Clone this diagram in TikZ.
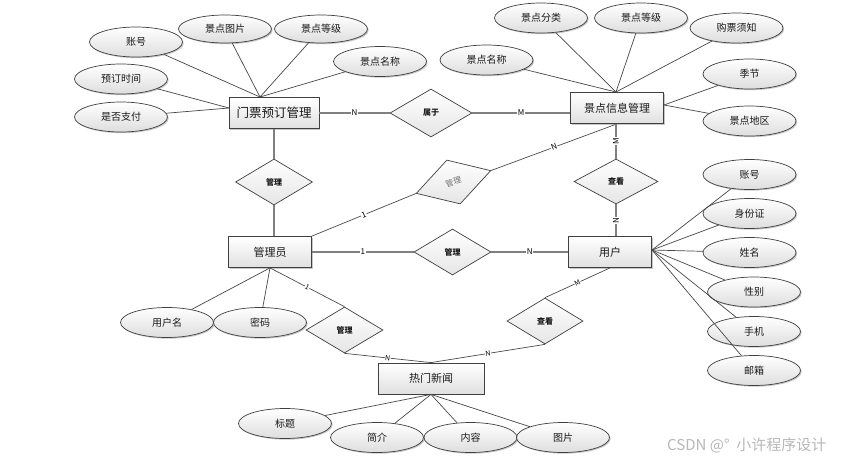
\documentclass[tikz,border=0pt]{standalone}
\usepackage{fontspec}
\setmainfont{Noto Sans CJK SC}
\usetikzlibrary{shapes.geometric,shadows}
\begin{document}
\begin{tikzpicture}[x=1pt,y=-1pt,
  every node/.style={font=\fontsize{10}{12}\selectfont, text=black!90},
  shd/.style={drop shadow={shadow xshift=1.2pt, shadow yshift=-1.2pt, opacity=0.22, fill=black}},
  ent/.style={rectangle, draw=black!75, line width=0.8pt, top color=white, bottom color=black!12,
    minimum width=#1, minimum height=31pt, inner sep=0pt, font=\fontsize{11}{13}\selectfont, shd},
  attr/.style={ellipse, draw=black!75, line width=0.7pt, top color=white, bottom color=black!13,
    minimum width=93pt, minimum height=30pt, inner sep=0pt, shd},
  rel/.style={diamond, draw=black!75, line width=0.7pt, top color=white, bottom color=black!10,
    minimum width=77pt, minimum height=46pt, inner sep=0pt, font=\fontsize{8}{10}\selectfont\bfseries},
  rline/.style={draw=black!50, line width=1.3pt},
  sline/.style={draw=black!70, line width=0.7pt},
  aline/.style={draw=black!72, line width=0.7pt},
  lab/.style={fill=white, inner sep=0.6pt, font=\fontsize{8}{9}\selectfont, text=black},
  slab/.style={fill=white, inner sep=0.4pt, font=\fontsize{7}{8}\selectfont, text=black}
]
\fill[white] (0,0) rectangle (844,461);
\useasboundingbox (0,0) rectangle (844,461);

% entities
\node[ent=90pt, font=\fontsize{12.5}{14}\selectfont] (mp) at (274,113) {门票预订管理};
\node[ent=93pt] (sj) at (617,108) {景点信息管理};
\node[ent=83pt] (gly) at (270,252) {管理员};
\node[ent=83pt] (yh) at (610,252) {用户};
\node[ent=106pt] (xw) at (431,378.5) {热门新闻};

% relationships
\node[rel, minimum width=82pt, minimum height=48pt] (sy) at (431,113) {属于};
\node[rel] (gl1) at (274,182) {管理};
\node[rel, rotate=17, minimum width=78pt, minimum height=46pt, font=\fontsize{8}{10}\selectfont, text=black!55] (gl2) at (453.5,182) {管理};
\node[rel, minimum width=84pt, minimum height=45pt] (ck1) at (616,181.5) {查看};
\node[rel] (gl3) at (452.5,252) {管理};
\node[rel] (gl4) at (344.5,330) {管理};
\node[rel, minimum width=76pt] (ck2) at (545,321) {查看};

% attributes of 门票预订管理
\node[attr] (a1) at (136,42) {账号};
\node[attr, minimum height=28pt] (a2) at (225,29) {景点图片};
\node[attr, minimum height=28pt] (a3) at (321,29) {景点等级};
\node[attr] (a4) at (380,61.5) {景点名称};
\node[attr] (a5) at (121,79) {预订时间};
\node[attr] (a6) at (121,117) {是否支付};
% attributes of 景点信息管理
\node[attr] (b1) at (541,18) {景点分类};
\node[attr] (b2) at (641,18) {景点等级};
\node[attr] (b3) at (736.5,28) {购票须知};
\node[attr] (b4) at (486.5,60) {景点名称};
\node[attr] (b5) at (749.5,74) {季节};
\node[attr] (b6) at (749.5,121) {景点地区};
% attributes of 用户
\node[attr] (c1) at (749.5,174.5) {账号};
\node[attr] (c2) at (749.5,213.5) {身份证};
\node[attr] (c3) at (749.5,252.5) {姓名};
\node[attr] (c4) at (754,292) {性别};
\node[attr] (c5) at (754,331.5) {手机};
\node[attr] (c6) at (754,370.5) {邮箱};
% attributes of 管理员
\node[attr] (d1) at (167,322.5) {用户名};
\node[attr] (d2) at (260,322.5) {密码};
% attributes of 热门新闻
\node[attr] (e1) at (285,423.5) {标题};
\node[attr] (e2) at (377,437.5) {简介};
\node[attr] (e3) at (470.5,437.5) {内容};
\node[attr] (e4) at (563,437.5) {图片};

% attachment points
\coordinate (mpT) at (260,97);
\coordinate (mpL) at (229,108);
\coordinate (sjT) at (616,92);
\coordinate (sjR) at (664,105);
\coordinate (yhR) at (652,250);

% attribute lines
\foreach \a in {a1,a2,a3,a4} \draw[aline] (\a) -- (mpT);
\foreach \a in {a5,a6} \draw[aline] (\a) -- (mpL);
\foreach \a in {b1,b2,b3,b4} \draw[aline] (\a) -- (sjT);
\foreach \a in {b5,b6} \draw[aline] (\a) -- (sjR);
\foreach \a in {c1,c2,c3,c4,c5,c6} \draw[aline] (\a) -- (yhR);
\foreach \a in {d1,d2} \draw[aline] (\a) -- (gly.south);
\foreach \a in {e1,e2,e3,e4} \draw[aline] (\a) -- (xw.south);

% relationship lines
\draw[rline] (mp) -- node[lab]{N} (sy);
\draw[rline] (sy.east) -- node[lab]{M} (sy.east -| sj.west);
\draw[rline] (gl1.north |- mp.south) -- (gl1.north);
\draw[rline] (gl1.south) -- (gl1.south |- gly.north);
\draw[sline] (gly.north east) -- node[lab, sloped]{1} (gl2.west);
\draw[sline] (gl2.east) -- node[lab, sloped]{N} (sj.south);
\draw[rline] (ck1.north) -- node[lab, sloped]{M} (ck1.north |- sj.south);
\draw[rline] (ck1.south |- yh.north) -- node[lab, sloped]{N} (ck1.south);
\draw[rline] (gly) -- node[lab]{1} (gl3);
\draw[rline] (gl3) -- node[lab]{N} (yh);
\draw[sline] (gly.south) -- node[slab, sloped]{1} (gl4.north);
\draw[sline] (gl4.south) -- node[slab, sloped]{N} (xw.north);
\draw[sline] (ck2.south) -- node[slab, sloped]{N} (xw.north);
\draw[sline] (ck2.north) -- node[slab, sloped]{M} (yh.south);

% watermark
\node[anchor=west, text=black!28, font=\fontsize{15}{17}\selectfont, inner sep=0pt] (wm) at (667,445) {CSDN @°\ \ 小许程序设计};
\end{tikzpicture}
\end{document}
